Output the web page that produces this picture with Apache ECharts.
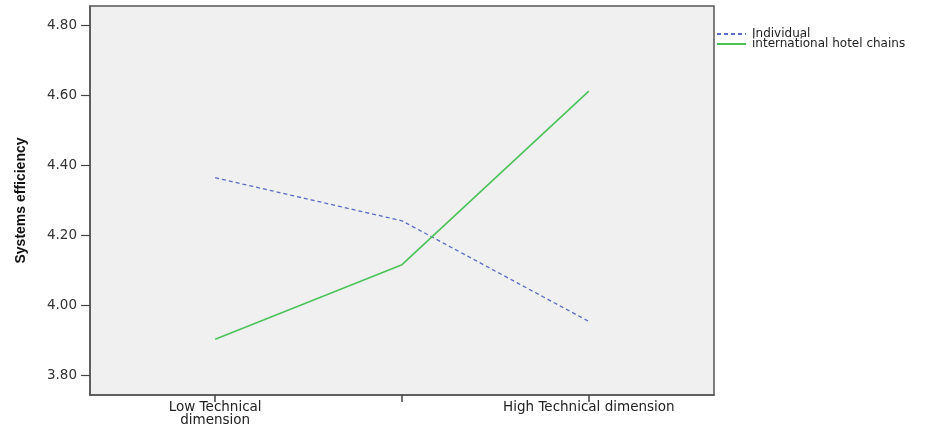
<!DOCTYPE html>
<html>
<head>
<meta charset="utf-8">
<script src="https://cdn.jsdelivr.net/npm/echarts@6/dist/echarts.min.js"></script>
<style>
html,body{margin:0;padding:0;background:#fff;}
#chart{width:941px;height:425px;}
</style>
</head>
<body>
<div id="chart"></div>
<script>
const categories = ["Low Technical\ndimension", "", "High Technical dimension"];
const categoryPositions = [1, 2, 3];
const individual = [4.365, 4.242, 3.955];
const hotelChains = [3.904, 4.117, 4.612];
const yTicks = [3.8, 4.0, 4.2, 4.4, 4.6, 4.8];
const seriesNames = ["Individual", "international hotel chains"];

const chart = echarts.init(document.getElementById('chart'));
const font = "'DejaVu Sans', Verdana, sans-serif";
chart.setOption({
  animation: false,
  backgroundColor: '#ffffff',
  grid: {
    left: 90, right: 227, top: 6, bottom: 30,
    containLabel: false, outerBoundsMode: 'none',
    show: true, backgroundColor: '#f0f0f0', borderColor: '#555555', borderWidth: 1.5
  },
  legend: {
    orient: 'vertical', left: 716, top: 28, padding: 0,
    itemWidth: 29, itemHeight: 10, itemGap: -2,
    itemStyle: { opacity: 0 },
    textStyle: { fontFamily: font, fontSize: 12, color: '#222', padding: [0, 0, 0, 1] },
    data: seriesNames
  },
  xAxis: {
    type: 'value', min: 0.33, max: 3.67,
    axisLine: { show: true, onZero: false, lineStyle: { color: '#555', width: 1.5 } },
    axisTick: { show: true, customValues: categoryPositions, length: 7, lineStyle: { color: '#444', width: 1.5 } },
    axisLabel: {
      customValues: categoryPositions,
      formatter: v => categories[Math.round(v) - 1] || '',
      fontFamily: font, fontSize: 13.5, color: '#222', lineHeight: 13, margin: 6
    },
    splitLine: { show: false }
  },
  yAxis: {
    type: 'value', min: 3.745, max: 4.855,
    name: 'Systems efficiency', nameLocation: 'middle', nameGap: 62,
    nameTextStyle: { fontFamily: "'Liberation Sans Narrow', 'Liberation Sans', Arial, sans-serif", fontWeight: 'bold', fontSize: 14, color: '#111' },
    axisLine: { show: true, lineStyle: { color: '#555', width: 1.5 } },
    axisTick: { show: true, customValues: yTicks, length: 9, lineStyle: { color: '#444', width: 1.2 } },
    axisLabel: {
      customValues: yTicks,
      formatter: v => v.toFixed(2),
      fontFamily: font, fontSize: 13.5, color: '#333', margin: 13
    },
    splitLine: { show: false }
  },
  series: [
    {
      name: seriesNames[0], type: 'line', symbol: 'none',
      data: categoryPositions.map((x, i) => [x, individual[i]]),
      lineStyle: { color: '#5a6cc4', width: 1.3, type: [4, 3] },
      itemStyle: { color: '#5a6cc4' }
    },
    {
      name: seriesNames[1], type: 'line', symbol: 'none',
      data: categoryPositions.map((x, i) => [x, hotelChains[i]]),
      lineStyle: { color: '#4cc35a', width: 1.6 },
      itemStyle: { color: '#4cc35a' }
    }
  ]
});
</script>
</body>
</html>
